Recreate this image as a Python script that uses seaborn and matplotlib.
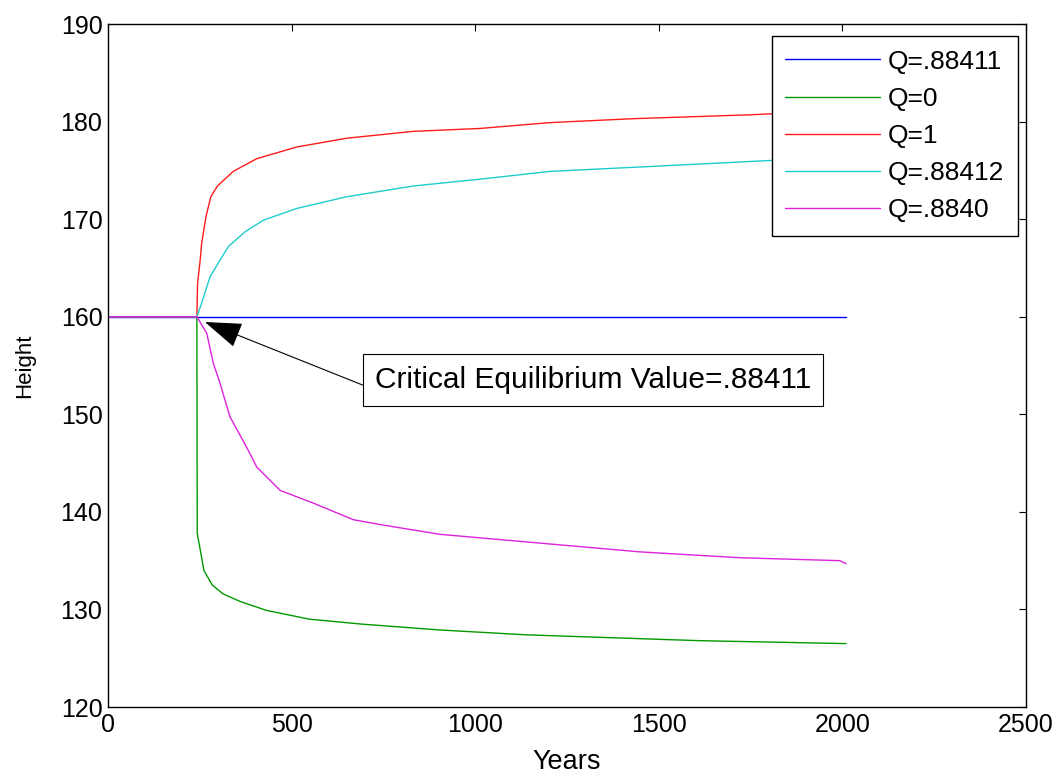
import matplotlib
matplotlib.use("Agg")
import matplotlib.pyplot as plt
import seaborn as sns
import pandas as pd

labels = ["Q=.88411", "Q=0", "Q=1", "Q=.88412", "Q=.8840"]
colors = ["#0000ff", "#009900", "#ff1a1a", "#1fcccc", "#dd22dd"]

blue_x = [0, 2010]
blue_y = [160, 160]

green_x = [0, 242, 243, 253, 261, 284, 313, 361, 432, 549, 690, 902, 1138, 1374, 1610, 2010]
green_y = [160, 160, 137.8, 135.75, 134.0, 132.5, 131.6, 130.8, 129.9, 129.0, 128.5, 127.9, 127.4, 127.1, 126.8, 126.5]

red_x = [0, 242, 244, 251, 255, 267, 280, 298, 341, 405, 514, 650, 831, 1013, 1204, 1430, 1749, 1807, 2010]
red_y = [160, 160, 163.5, 165.8, 167.5, 170.3, 172.3, 173.4, 174.9, 176.2, 177.4, 178.3, 179.0, 179.3, 179.9, 180.3, 180.7, 180.8, 181.0]

cyan_x = [0, 242, 255, 278, 305, 328, 373, 423, 514, 650, 831, 1013, 1204, 1476, 1794, 2010]
cyan_y = [160, 160, 161.4, 164.1, 165.8, 167.2, 168.7, 169.9, 171.1, 172.3, 173.4, 174.1, 174.9, 175.4, 176.0, 176.3]

mag_x = [0, 242, 250, 269, 287, 305, 332, 378, 405, 469, 559, 668, 741, 904, 1176, 1449, 1721, 1993, 2010]
mag_y = [160, 160, 159.5, 158.3, 155.2, 153.2, 149.75, 146.6, 144.6, 142.2, 140.9, 139.2, 138.7, 137.7, 136.8, 135.9, 135.3, 135.0, 134.7]

series = [(blue_x, blue_y), (green_x, green_y), (red_x, red_y), (cyan_x, cyan_y), (mag_x, mag_y)]
frames = []
for lab, (xs, ys) in zip(labels, series):
    frames.append(pd.DataFrame({"Years": xs, "Height": ys, "Q": lab}))
df = pd.concat(frames, ignore_index=True)

sns.set_style("white")
plt.rcParams["font.family"] = ["Liberation Sans", "DejaVu Sans"]
plt.rcParams["text.color"] = "black"
plt.rcParams["axes.labelcolor"] = "black"
plt.rcParams["xtick.color"] = "black"
plt.rcParams["ytick.color"] = "black"

fig = plt.figure(figsize=(10.61, 7.76), dpi=100)
ax = fig.add_axes([0.1018, 0.0889, 0.967 - 0.1018, 0.969 - 0.0889])

sns.lineplot(data=df, x="Years", y="Height", hue="Q", hue_order=labels,
             palette=colors, linewidth=1.0, ax=ax, legend=False, sort=False,
             estimator=None)

ax.set_xlim(0, 2500)
ax.set_ylim(120, 190)
ax.set_xticks([0, 500, 1000, 1500, 2000, 2500])
ax.set_yticks([120, 130, 140, 150, 160, 170, 180, 190])
ax.tick_params(direction="in", length=5, width=0.8, top=True, right=True,
               labelsize=18, colors="black", pad=4)
for s in ax.spines.values():
    s.set_color("black")
    s.set_linewidth(1.0)
ax.set_xlabel("Years", fontsize=19.5, labelpad=9)
ax.set_ylabel("Height", fontsize=16, labelpad=18)

handles = [plt.Line2D([], [], color=c, lw=1.0) for c in colors]
leg = ax.legend(handles, labels, loc="upper right", bbox_to_anchor=(0.991, 0.982),
                borderaxespad=0, fontsize=19, handlelength=3.6, handletextpad=0.3,
                labelspacing=0.5, fancybox=False, framealpha=1, edgecolor="black",
                borderpad=0.5)
leg.get_frame().set_linewidth(1.0)

ax.annotate("Critical Equilibrium Value=.88411", xy=(264, 159.46), xytext=(727, 153.5),
            fontsize=21.5, va="center", ha="left",
            bbox=dict(boxstyle="square,pad=0.4", fc="white", ec="black", lw=0.8),
            arrowprops=dict(arrowstyle="-|>,head_length=1.1,head_width=0.38",
                            color="black", lw=0.8, shrinkA=0, shrinkB=0,
                            relpos=(0.0, 0.15)))

fig.savefig("out.png", dpi=100)
